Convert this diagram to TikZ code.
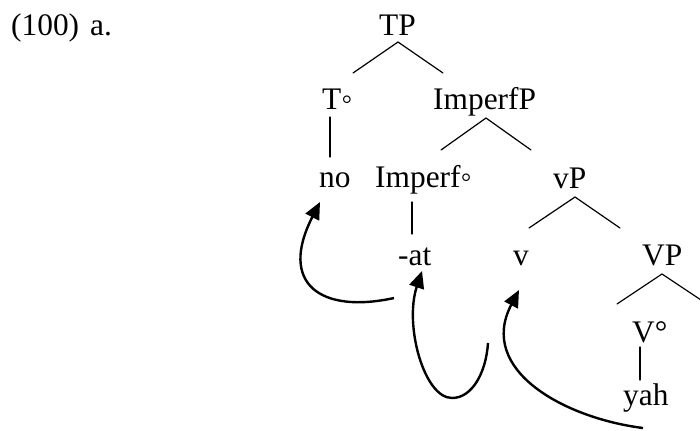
\documentclass[tikz,border=0pt]{standalone}
\usepackage{fontspec}
\setmainfont{Liberation Serif}
\usetikzlibrary{arrows.meta}
\tikzset{
  lbl/.style={anchor=base west, inner sep=0pt, font=\fontsize{31.5}{36}\selectfont},
  branch/.style={line width=1.2bp, line cap=round},
  move/.style={line width=2.4bp, -{Triangle[length=17bp,width=15bp]}}
}
\begin{document}
\begin{tikzpicture}[x=1bp,y=-1bp]
\useasboundingbox (0,0) rectangle (700,430);
\clip (0,0) rectangle (700,430);
% labels
\node[lbl] (ex) at (11,35) {(100)};
\node[lbl] (exa) at (90,35) {a.};
\node[lbl] (TP) at (379,35) {TP};
\node[lbl] (T) at (322,109) {T◦};
\node[lbl] (ImpP) at (433,109) {ImperfP};
\node[lbl] (no) at (319,187) {no};
\node[lbl] (Imp) at (375,187) {Imperf◦};
\node[lbl] (vP) at (553,188) {vP};
\node[lbl] (at) at (398,265) {-at};
\node[lbl] (v) at (513,265) {v};
\node[lbl] (VP) at (642,265) {VP};
\node[lbl] (V) at (632,342) {V°};
\node[lbl] (yah) at (623,405) {yah};
% branch end points
\coordinate (TPa) at (398,42);
\coordinate (TPl) at (353,73);
\coordinate (TPr) at (443,73);
\coordinate (Ta) at (330,117);
\coordinate (Tb) at (330,157);
\coordinate (IPa) at (486,118);
\coordinate (IPl) at (441,150);
\coordinate (IPr) at (531,150);
\coordinate (Ia) at (412,202);
\coordinate (Ib) at (412,234);
\coordinate (vPa) at (575,197);
\coordinate (vPl) at (529,228);
\coordinate (vPr) at (620,228);
\coordinate (VPa) at (662,274);
\coordinate (VPl) at (617,304);
\coordinate (VPr) at (707,304);
\coordinate (Va) at (640,347);
\coordinate (Vb) at (640,380);
\draw[branch] (TPl) -- (TPa) -- (TPr);
\draw[branch] (Ta) -- (Tb);
\draw[branch] (IPl) -- (IPa) -- (IPr);
\draw[branch] (Ia) -- (Ib);
\draw[branch] (vPl) -- (vPa) -- (vPr);
\draw[branch] (VPl) -- (VPa) -- (VPr);
\draw[branch] (Va) -- (Vb);
% movement arrows
\coordinate (m1s) at (394,298);
\coordinate (m1e) at (320,202);
\coordinate (m2s) at (488,343);
\coordinate (m2b) at (452,398);
\coordinate (m2e) at (422,271);
\coordinate (m3s) at (643,428);
\coordinate (m3e) at (519,290);
\draw[move] (m1s) .. controls (321,314) and (278,284) .. (m1e);
\draw[move] (m2s) .. controls (486,373) and (472,398) .. (m2b)
               .. controls (424,398) and (404,325) .. (m2e);
\draw[move] (m3s) .. controls (564,418) and (477,370) .. (m3e);
\end{tikzpicture}
\end{document}
